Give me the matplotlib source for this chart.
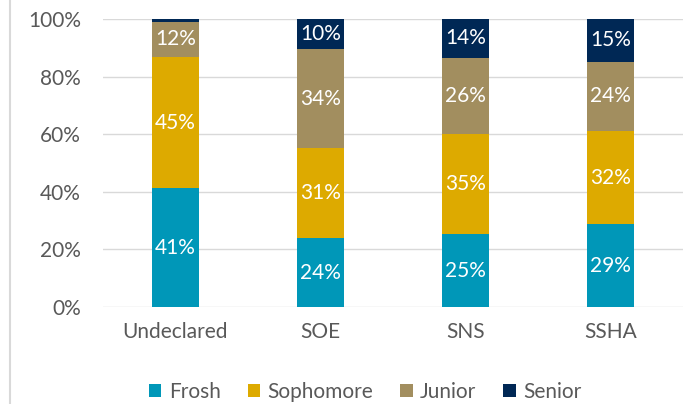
import numpy as np
import matplotlib
matplotlib.use("Agg")
from matplotlib import pyplot as plt
from matplotlib.lines import Line2D

plt.rcParams['font.family'] = ['Lato', 'DejaVu Sans']

categories = ['Undeclared', 'SOE', 'SNS', 'SSHA']
frosh = [41.3, 23.8, 25.2, 28.8]
sophomore = [45.4, 31.3, 35.0, 32.3]
junior = [12.4, 34.4, 26.3, 24.0]
senior = [0.9, 10.5, 13.5, 14.9]

series = [('Frosh', frosh, '#0097B8'),
          ('Sophomore', sophomore, '#DDAA00'),
          ('Junior', junior, '#A28E5F'),
          ('Senior', senior, '#002855')]

fig = plt.figure(figsize=(6.89, 4.04), dpi=100)
ax = fig.add_axes([0.1495, 0.240, 0.8415, 0.713])

x = np.arange(len(categories))
bottom = np.zeros(len(categories))
for name, vals, color in series:
    vals = np.array(vals)
    ax.bar(x, vals, 0.32, bottom=bottom, color=color, label=name, zorder=3)
    for xi, b, v in zip(x, bottom, vals):
        if v >= 5:
            ax.text(xi, b + v / 2, '%d%%' % round(v), ha='center', va='center',
                    color='white', fontsize=15, zorder=4)
    bottom += vals

ax.set_xlim(-0.5, 3.5)
ax.set_ylim(0, 100)
ax.set_yticks(range(0, 101, 20))
ax.set_yticklabels(['%d%%' % t for t in range(0, 101, 20)])
ax.set_xticks(x)
ax.set_xticklabels(categories)
ax.grid(axis='y', color='#D9D9D9', linewidth=1, zorder=0)
for s in ax.spines.values():
    s.set_visible(False)
ax.tick_params(axis='y', length=0, pad=16, labelsize=15, labelcolor='#595959')
ax.tick_params(axis='x', length=0, pad=11, labelsize=15, labelcolor='#595959')

fig.add_artist(Line2D([10 / 689, 10 / 689], [0, 1], color='#D9D9D9', linewidth=1.5))

ax.legend(loc='center', bbox_to_anchor=(0.53, 0.03), bbox_transform=fig.transFigure,
          ncol=4, frameon=False, fontsize=15, labelcolor='#595959',
          handlelength=0.6, handleheight=0.6, handletextpad=0.35, columnspacing=1.3)

fig.savefig('out.png', dpi=100)
plt.close(fig)
